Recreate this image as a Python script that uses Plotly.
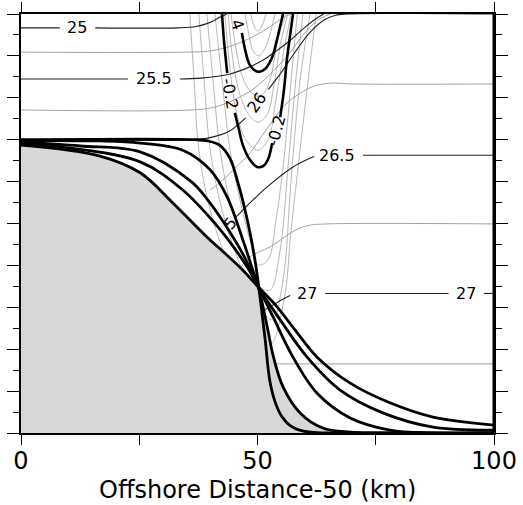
import plotly.graph_objects as go

# Offshore distance minus 50 km (x, km) and depth (z, m)

# Interface profiles across the slope (five cases, sharpest first)
prof1_x = [0, 37, 39.5, 42, 44.2, 45.8, 47.2, 48.5, 49.5, 50.2, 50.8, 51.6, 52.6, 53.7, 55, 57, 59.5, 62.5, 66, 100]
prof1_z = [-300, -300, -303, -313, -345, -400, -460, -527, -590, -645, -700, -775, -875, -925, -958, -983, -995, -999, -1000, -1000]
prof2_x = [0, 16.7, 25.2, 34.2, 40, 43.6, 46.9, 49, 50.2, 51, 52.2, 53.3, 55.4, 59, 63.8, 69.6, 76, 100]
prof2_z = [-302, -303, -308, -325, -372, -437, -539, -611, -652, -690, -755, -815, -890, -952, -988, -998, -1000, -1000]
prof3_x = [0, 12.5, 25.2, 36, 39.5, 43, 47, 50.2, 53.3, 57.5, 62.6, 69.6, 78, 87, 100]
prof3_z = [-306, -315, -329, -400, -444, -500, -575, -652, -723, -819, -905, -964, -993, -1000, -1000]
prof4_x = [0, 8.2, 25.2, 34.2, 41.4, 45, 48, 50.2, 54.8, 60.5, 67.4, 76.5, 87.1, 100]
prof4_z = [-310, -317, -353, -420, -505, -557, -607, -652, -730, -819, -897, -952, -986, -993]
prof5_x = [0, 16.7, 25.2, 32.1, 39.3, 43, 46.5, 50.2, 54, 58, 62.6, 69.6, 78, 87.1, 100]
prof5_z = [-313, -339, -379, -451, -532, -570, -607, -652, -697, -755, -819, -881, -928, -962, -981]

# Bottom topography (shelf side of profile 5, deep side of profile 2)
topo_x = [0, 16.7, 25.2, 32.1, 39.3, 43, 46.5, 50.2, 51, 52.2, 53.3, 55.4, 59, 63.8, 69.6, 76, 100]
topo_z = [-313, -339, -379, -451, -532, -570, -607, -652, -690, -755, -815, -890, -952, -988, -998, -1000, -1000]

# Density contours (sigma); None marks a break for a label
sig250_x = [0, 8.2, None, 15.7, 33, 37, 40, 42, 43.5]
sig250_z = [-33, -33, None, -33, -33, -30, -20, -8, 0]
sig2525_x = [0, 35, 40, 44, 48, 52, 55, 57]
sig2525_z = [-91, -91, -88, -78, -60, -35, -12, 0]
sig255_x = [0, 22.6, None, 33.6, 38, 44.2, 48, 51.2, 54, 57, 60, 62.5, 64]
sig255_z = [-155, -155, None, -155, -153, -143, -128, -110, -88, -62, -32, -10, 0]
sig2575_x = [0, 36, 41, 45, 49, 53, 57, 60, 63, 65.5]
sig2575_z = [-229, -229, -222, -205, -180, -140, -90, -45, -12, 0]
sig260_x = [0, 36, 40, 44, 47.5, None, 52.3, 55, 58, 61, 64, 66.5, 69, 100]
sig260_z = [-300, -300, -295, -280, -248, None, -180, -140, -90, -45, -15, -3, 0, 0]
sig2625_x = [40, 42.7, 45.5, 48.4, 51, 53.3, 56, 59, 62, 65.3, 70, 100]
sig2625_z = [-420, -396, -365, -332, -290, -253, -215, -189, -172, -165, -167, -167]
sig265_x = [45.3, 46.3, 48.4, 52, 57.5, 60.5, 62, None, 72.3, 100]
sig265_z = [-485, -475, -451, -413, -365, -347, -340, None, -337, -337]
sig2675_x = [46, 48.4, 50.5, 52.6, 54.8, 56.9, 59, 61.1, 64.7, 100]
sig2675_z = [-610, -580, -567, -556, -540, -523, -511, -504, -501, -501]
sig270_x = [50.5, 52.6, 54.5, 56.9, None, 64.3, 90.4, None, 97.9, 100]
sig270_z = [-712, -699, -686, -672, None, -667, -667, None, -667, -667]
sig2725_x = [53, 100]
sig2725_z = [-835, -835]

# Along-shore velocity contours (m/s)
v02_x = [42.5, 42.9, 43.6, None, 45.2, 46.1, 46.9, 48.4, 49.9, 51.2, 52.2, 53.1, None, 54.8, 55.6, 56.2, 56.9, 57.5]
v02_z = [0, -62, -141, None, -236, -277, -313, -348, -365, -363, -348, -308, None, -246, -181, -110, -50, 0]
v04_x = [46.7, 47.4, 48.4, 50.1, 51.6, 53.1, 54.1, 55, 55.4]
v04_z = [-45, -86, -122, -138, -131, -103, -62, -19, 0]
vthin_x = [
    [41.0, 42.5, 44.2, 46.3, 48.4, 50.1, 52.2, 53.9, 55.8, 57.1, 58.4],
    [39.3, 40.6, 42.1, 44.6, 47.6, 50.1, 52.6, 54.8, 56.4, 58.1, 59.6],
    [37.6, 38.7, 40.0, 42.5, 45.9, 49.5, 53.1, 55.4, 57.1, 59.0, 61.1],
    [35.7, 36.6, 37.6, 40.0, 43.8, 48.4, 52.6, 55.6, 57.1, 59.0, 60.7, 62.4],
    [43.1, 44.2, 45.7, 47.6, 50.1, 52.2, 53.9, 55.4, 57.1],
    [43.8, 44.8, 46.3, 48.2, 50.1, 52.0, 53.5, 54.8, 56.4],
    [44.4, 45.5, 46.9, 48.6, 50.1, 51.6, 52.9, 54.3, 56.0],
    [47.4, 48.2, 49.0, 50.1, 51.4, 52.6, 53.7],
    [48.6, 49.3, 50.1, 50.9, 51.8],
]
vthin_z = [
    [0, -158, -325, -444, -539, -599, -587, -492, -325, -158, 0],
    [0, -158, -325, -468, -563, -647, -659, -563, -372, -158, 0],
    [0, -158, -325, -468, -587, -683, -730, -635, -396, -158, 0],
    [0, -158, -325, -468, -599, -730, -790, -683, -516, -325, -158, 0],
    [0, -134, -241, -301, -325, -301, -205, -98, 0],
    [0, -110, -193, -241, -258, -241, -169, -74, 0],
    [0, -86, -153, -186, -196, -186, -146, -62, 0],
    [0, -50, -86, -100, -86, -50, 0],
    [0, -29, -41, -29, 0],
]

# Contour labels: text, x, z, angle
labels = [
    ("25", 11.8, -33, 0), ("25.5", 28.1, -155, 0), ("26.5", 66.8, -337, 0),
    ("27", 60.5, -667, 0), ("27", 94.1, -667, 0),
    ("-0.2", 44.2, -189, 80), ("-0.2", 53.9, -277, -75), ("26", 49.9, -212, -55),
    ("4", 45.7, -26, 70), ("5", 44.2, -499, -50),
]

BLACK = "#000000"
THIN = "#a4a4a4"
FONT = "DejaVu Sans"


def line(xs, zs, color, width):
    return go.Scatter(x=xs, y=zs, mode="lines", hoverinfo="skip", showlegend=False,
                      line=dict(color=color, width=width, shape="spline"))


fig = go.Figure()

# thin velocity contours
for xs, zs in zip(vthin_x, vthin_z):
    fig.add_trace(line(xs, zs, THIN, 0.8))

# intermediate density contours
for xs, zs in [(sig2525_x, sig2525_z), (sig2575_x, sig2575_z), (sig2625_x, sig2625_z),
               (sig2675_x, sig2675_z), (sig2725_x, sig2725_z)]:
    fig.add_trace(line(xs, zs, THIN, 1))

# labelled density contours
for xs, zs in [(sig250_x, sig250_z), (sig255_x, sig255_z), (sig260_x, sig260_z),
               (sig265_x, sig265_z), (sig270_x, sig270_z)]:
    fig.add_trace(line(xs, zs, "#222222", 1.1))

# topography fill (covers contours below the bottom)
fig.add_trace(go.Scatter(x=[0, 100], y=[-1000, -1000], mode="lines",
                         line=dict(width=0), hoverinfo="skip", showlegend=False))
fig.add_trace(go.Scatter(x=topo_x, y=topo_z, mode="lines", fill="tonexty",
                         fillcolor="#d8d8d8", line=dict(width=0, shape="spline"),
                         hoverinfo="skip", showlegend=False))

# velocity contours -0.2 and -0.4
for xs, zs in [(v02_x, v02_z), (v04_x, v04_z)]:
    fig.add_trace(line(xs, zs, BLACK, 2.6))

# interface profiles
for xs, zs in [(prof1_x, prof1_z), (prof2_x, prof2_z), (prof3_x, prof3_z),
               (prof4_x, prof4_z), (prof5_x, prof5_z)]:
    fig.add_trace(line(xs, zs, BLACK, 2.8))

for text, x, z, ang in labels:
    fig.add_annotation(x=x, y=z, text=text, showarrow=False, textangle=ang,
                       font=dict(family=FONT, size=16, color=BLACK))

fig.add_annotation(xref="paper", yref="paper", x=0.5, y=0, yshift=-57,
                   yanchor="middle", showarrow=False,
                   text="Offshore Distance-50 (km)",
                   font=dict(family=FONT, size=24, color=BLACK))

# heavier right-hand border
fig.add_shape(type="line", xref="x", yref="y", x0=100, x1=100, y0=-1000, y1=0,
              line=dict(color=BLACK, width=3))

fig.update_layout(
    width=523, height=505,
    margin=dict(l=21, r=29, t=14, b=72),
    paper_bgcolor="white", plot_bgcolor="white",
    font=dict(family=FONT, color=BLACK),
    showlegend=False,
)
fig.update_xaxes(
    range=[0, 100], tickmode="array", tickvals=[0, 25, 50, 75, 100],
    ticktext=["0", "", "50", "", "100"], ticks="outside", ticklen=10,
    tickwidth=1, tickcolor=BLACK, showline=True, linecolor=BLACK, linewidth=2,
    mirror="allticks", showgrid=False, zeroline=False, automargin=False,
    tickfont=dict(family=FONT, size=24), ticklabelstandoff=-5,
)
fig.update_yaxes(
    range=[-1000, 0], tick0=0, dtick=100, ticks="outside", ticklen=12,
    tickwidth=1, tickcolor=BLACK, showticklabels=False,
    minor=dict(dtick=50, ticklen=6, ticks="outside", tickcolor=BLACK, tickwidth=1),
    showline=True, linecolor=BLACK, linewidth=2, mirror="allticks",
    showgrid=False, zeroline=False, automargin=False,
)

fig.write_html("out.html")
